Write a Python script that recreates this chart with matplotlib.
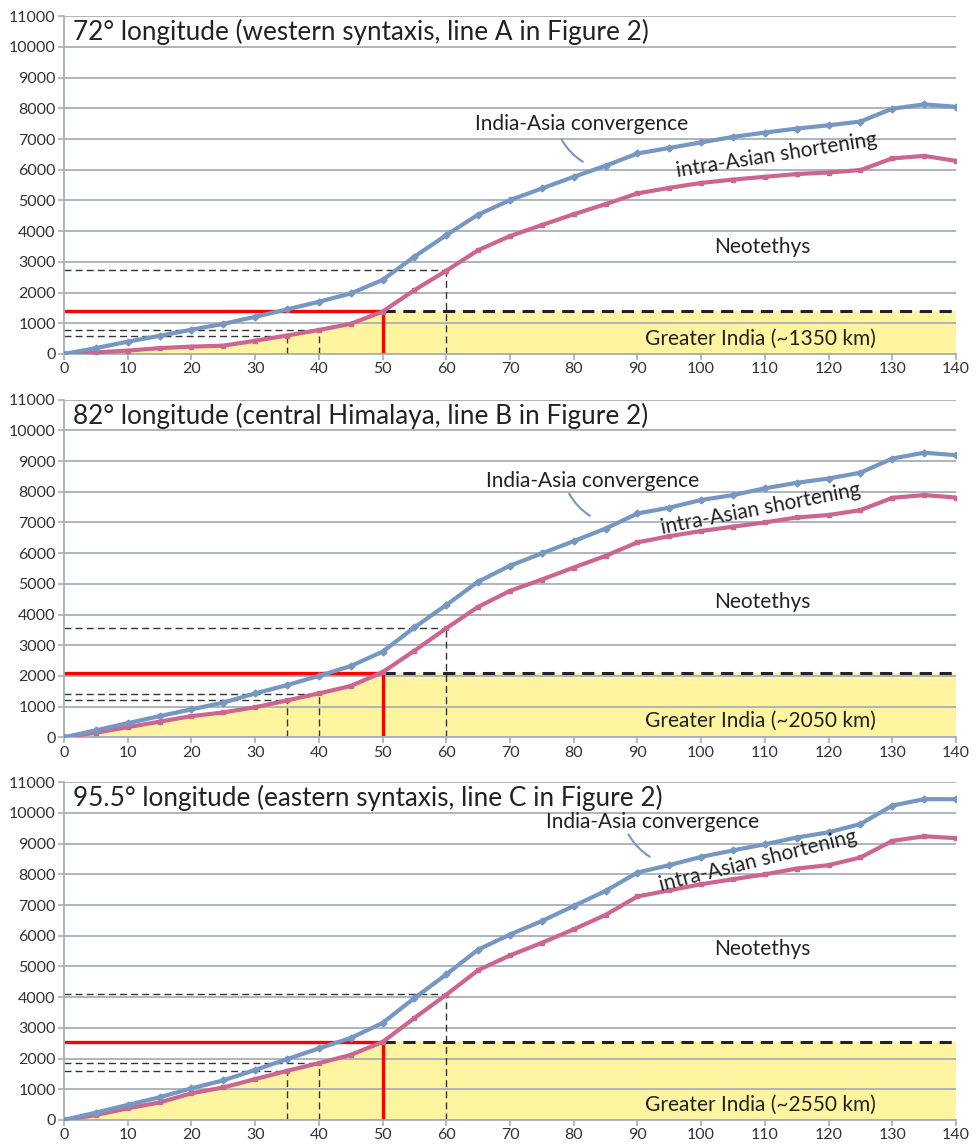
import matplotlib
matplotlib.use("Agg")
import matplotlib.pyplot as plt

plt.rcParams['font.family'] = ['Lato', 'DejaVu Sans']

# age in Ma
ages = [0, 5, 10, 15, 20, 25, 30, 35, 40, 45, 50, 55, 60, 65, 70, 75, 80,
        85, 90, 95, 100, 105, 110, 115, 120, 125, 130, 135, 140]

conv_72 = [0, 190, 400, 590, 790, 980, 1210, 1450, 1700, 1970, 2410, 3170, 3870, 4540,
           5010, 5390, 5770, 6130, 6530, 6710, 6890, 7070, 7210, 7340, 7450, 7570,
           7990, 8130, 8050]
short_72 = [0, 50, 110, 190, 240, 270, 430, 600, 780, 980, 1380, 2080, 2710, 3380,
            3840, 4200, 4550, 4880, 5230, 5410, 5570, 5680, 5770, 5860, 5910, 5990,
            6370, 6450, 6290]
conv_82 = [0, 230, 460, 690, 910, 1130, 1430, 1700, 2000, 2320, 2790, 3580, 4310, 5070,
           5590, 5990, 6390, 6800, 7290, 7480, 7730, 7890, 8110, 8290, 8430, 8620,
           9080, 9270, 9190]
short_82 = [0, 150, 330, 510, 690, 810, 980, 1200, 1430, 1670, 2120, 2820, 3550, 4250,
            4770, 5140, 5530, 5910, 6350, 6550, 6720, 6860, 7000, 7160, 7240, 7400,
            7800, 7890, 7810]
conv_95 = [0, 240, 490, 740, 1030, 1290, 1630, 1980, 2330, 2670, 3160, 3970, 4740, 5550,
           6040, 6480, 6970, 7460, 8060, 8300, 8570, 8780, 8980, 9200, 9370, 9640,
           10240, 10450, 10450]
short_95 = [0, 160, 380, 570, 870, 1060, 1330, 1600, 1850, 2120, 2540, 3320, 4080, 4880,
            5360, 5770, 6210, 6680, 7280, 7480, 7680, 7840, 8000, 8190, 8300, 8550,
            9090, 9240, 9180]

titles = ["72° longitude (western syntaxis, line A in Figure 2)",
          "82° longitude (central Himalaya, line B in Figure 2)",
          "95.5° longitude (eastern syntaxis, line C in Figure 2)"]
gi_labels = ["Greater India (~1350 km)", "Greater India (~2050 km)", "Greater India (~2550 km)"]

collision_age = 50
gi_level = [1400, 2100, 2550]
guide_ages = [35, 40, 60]
guide_levels = [[590, 790, 2730], [1210, 1420, 3570], [1610, 1860, 4100]]

# label placement (data coords)
conv_lab = [(81.3, 7480), (82.9, 8340), (92.3, 9700)]
short_lab = [(111.9, 6480), (109.3, 7430), (109.0, 8430)]
short_rot = [9, 11, 14]
leaders = [((77.9, 7060), (81.8, 6215)), ((79.1, 8015), (82.9, 7170)), ((88.4, 9380), (92.3, 8530))]
neo_y = [3480, 4400, 5560]
gi_y = [490, 530, 490]

blue = '#7597C2'
pink = '#CC6690'
yellow = '#FFF5A0'
gridc = '#A7B0B8'

fig = plt.figure(figsize=(9.77, 11.44), dpi=100)
bottoms = [0.6906, 0.3555, 0.021]
series = [(conv_72, short_72), (conv_82, short_82), (conv_95, short_95)]

for i in range(3):
    ax = fig.add_axes([0.0655, bottoms[i], 0.913, 0.2952])
    conv, short = series[i]
    lvl = gi_level[i]

    # greater india area
    n = ages.index(collision_age)
    ax.fill_between(ages[:n + 1], 0, short[:n + 1], color=yellow, zorder=0.2, lw=0)
    ax.fill_between([collision_age, 140], 0, lvl, color=yellow, zorder=0.2, lw=0)

    # guide lines
    for a, v in zip(guide_ages, guide_levels[i]):
        ax.plot([0, a], [v, v], color='#333333', lw=1, dashes=(5, 3), zorder=2)
        ax.plot([a, a], [0, v], color='#333333', lw=1, dashes=(5, 3), zorder=2)
    ax.plot([collision_age, 140], [lvl, lvl], color='#222222', lw=2.2, dashes=(4, 2.5), zorder=2)
    ax.plot([0, collision_age], [lvl, lvl], color='#FF0000', lw=2.4, zorder=2.5)
    ax.plot([collision_age, collision_age], [0, lvl], color='#FF0000', lw=2.4, zorder=2.5)

    ax.plot(ages, short, color=pink, lw=3, marker='s', ms=3, zorder=3)
    ax.plot(ages, conv, color=blue, lw=3, marker='D', ms=3.5, zorder=3)

    ax.set_xlim(0, 140)
    ax.set_ylim(0, 11000)
    ax.set_xticks(range(0, 141, 10))
    ax.set_yticks(range(0, 11001, 1000))
    ax.set_axisbelow(True)
    ax.yaxis.grid(True, color=gridc, lw=1.3)
    for s in ['top', 'right']:
        ax.spines[s].set_visible(False)
    for s in ['left', 'bottom']:
        ax.spines[s].set_color(gridc)
        ax.spines[s].set_linewidth(1.3)
    ax.tick_params(axis='both', colors=gridc, labelcolor='#333333', labelsize=11.5,
                   length=4, width=1.2)
    ax.tick_params(axis='y', pad=2)
    ax.tick_params(axis='x', pad=2)

    ax.text(1.4, 10480, titles[i], fontsize=18.8, color='#222222', va='center', ha='left')
    ax.text(*conv_lab[i], "India-Asia convergence", fontsize=15, color='#222222',
            ha='center', va='center')
    ax.text(*short_lab[i], "intra-Asian shortening", fontsize=15, color='#222222',
            ha='center', va='center', rotation=short_rot[i], rotation_mode='anchor')
    ax.annotate("", xy=leaders[i][1], xytext=leaders[i][0],
                arrowprops=dict(arrowstyle='-', color=blue, lw=1.5,
                                connectionstyle='arc3,rad=0.15'))
    ax.text(109.6, neo_y[i], "Neotethys", fontsize=15, color='#222222', ha='center', va='center')
    ax.text(109.3, gi_y[i], gi_labels[i], fontsize=15, color='#222222', ha='center', va='center')

fig.savefig('out.png', dpi=100)
